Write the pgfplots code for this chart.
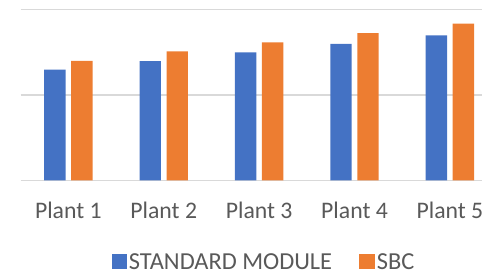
\documentclass[border=0pt]{standalone}
\usepackage{pgfplots}
\pgfplotsset{compat=1.18}
\usepackage{fontspec}
\setmainfont{Carlito}
\definecolor{cblue}{HTML}{4472C4}
\definecolor{corange}{HTML}{ED7D31}
\definecolor{cgrid}{HTML}{D9D9D9}
\definecolor{ctext}{HTML}{595959}
\begin{document}
\begin{tikzpicture}
\useasboundingbox (0,0) rectangle (361.5pt,204.75pt);
\clip (0,0) rectangle (361.5pt,204.75pt);
\begin{axis}[
  at={(15.5pt,69.5pt)}, anchor=south west,
  scale only axis, width=357.7pt, height=127.95pt,
  ybar=4.25pt, bar width=16pt,
  xmin=-0.5, xmax=4.5, ymin=0, ymax=2,
  xtick=data, xticklabels={Plant 1,Plant 2,Plant 3,Plant 4,Plant 5},
  ytick={0,1,2}, yticklabels={},
  ymajorgrids, grid style={cgrid, line width=1pt},
  axis line style={draw=none}, major tick length=0pt,
  tick label style={font=\fontsize{17.8pt}{20pt}\selectfont, text=ctext},
  xticklabel style={yshift=-13pt},
  legend style={at={(0.51,-0.475)}, anchor=center, draw=none, fill=none,
    inner sep=0pt,
    font=\fontsize{18.3pt}{20pt}\selectfont, text=ctext, legend columns=2,
    /tikz/every even column/.append style={column sep=19pt},
    /tikz/every odd column/.append style={column sep=0pt},
    nodes={inner xsep=1.5pt, inner ysep=0pt, text depth=0pt}},
  legend image code/.code={\fill[#1] (0pt,-5.6pt) rectangle (11.5pt,5.6pt);},
]
\addplot[fill=cblue, draw=none] coordinates {(0,1.297) (1,1.399) (2,1.50) (3,1.60) (4,1.70)};
\addplot[fill=corange, draw=none] coordinates {(0,1.402) (1,1.512) (2,1.618) (3,1.727) (4,1.836)};
\legend{STANDARD MODULE, SBC}
\end{axis}
\end{tikzpicture}
\end{document}
